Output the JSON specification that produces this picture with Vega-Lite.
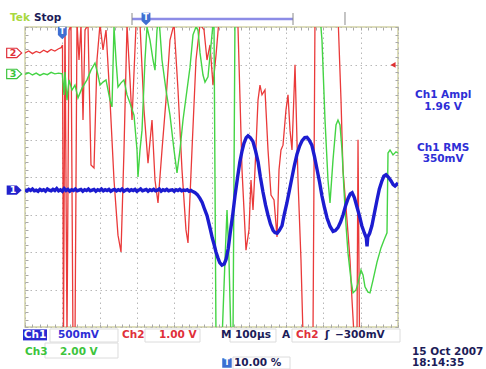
{
"$schema":"https://vega.github.io/schema/vega-lite/v6.json",
"width":373,"height":300,
"autosize":{"type":"none"},
"padding":{"left":25,"top":27,"right":88,"bottom":42},
"background":"white",
"config":{"view":{"stroke":"#d2d2a4","strokeWidth":1.5},"text":{"font":"DejaVu Sans","fontWeight":"bold","fontSize":10.5}},
"resolve":{"axis":{"x":"independent","y":"independent"}},
"datasets":{
"ch2":[{"x":0,"y":3.31},{"x":0.1,"y":3.36},{"x":0.2,"y":3.29},{"x":0.3,"y":3.35},{"x":0.4,"y":3.31},{"x":0.5,"y":3.38},{"x":0.6,"y":3.33},{"x":0.7,"y":3.4},{"x":0.8,"y":3.36},{"x":0.9,"y":3.42},{"x":0.97,"y":3.45},{"x":1.005,"y":3.52},{"x":1.032,"y":-4.35},{"x":1.072,"y":4.3},{"x":1.126,"y":-4.35},{"x":1.18,"y":3.92},{"x":1.233,"y":4.05},{"x":1.287,"y":-4.48},{"x":1.34,"y":-4.48},{"x":1.394,"y":4.13},{"x":1.448,"y":3.12},{"x":1.501,"y":4.05},{"x":1.555,"y":1.52},{"x":1.609,"y":3.92},{"x":1.689,"y":4.05},{"x":1.769,"y":0.32},{"x":1.85,"y":0.24},{"x":1.93,"y":3.12},{"x":2.011,"y":4.08},{"x":2.091,"y":3.39},{"x":2.172,"y":3.92},{"x":2.279,"y":2.05},{"x":2.386,"y":-0.08},{"x":2.493,"y":-1.55},{"x":2.574,"y":-2.0},{"x":2.654,"y":0.72},{"x":2.735,"y":4.05},{"x":2.815,"y":2.59},{"x":2.869,"y":1.52},{"x":2.976,"y":4.05},{"x":3.083,"y":4.08},{"x":3.19,"y":1.79},{"x":3.298,"y":0.37},{"x":3.405,"y":1.52},{"x":3.485,"y":-0.08},{"x":3.566,"y":-0.69},{"x":3.673,"y":0.72},{"x":3.78,"y":2.05},{"x":3.887,"y":3.65},{"x":3.995,"y":4.08},{"x":4.102,"y":2.32},{"x":4.209,"y":0.19},{"x":4.316,"y":-1.41},{"x":4.37,"y":-1.76},{"x":4.477,"y":0.72},{"x":4.584,"y":3.12},{"x":4.692,"y":4.08},{"x":4.799,"y":3.92},{"x":4.879,"y":3.12},{"x":4.96,"y":3.52},{"x":5.04,"y":2.45},{"x":5.121,"y":3.25},{"x":5.201,"y":4.19},{"x":5.496,"y":4.32},{"x":5.71,"y":4.0},{"x":5.818,"y":0.19},{"x":5.925,"y":-1.95},{"x":6.005,"y":-1.41},{"x":6.059,"y":-0.08},{"x":6.113,"y":-0.88},{"x":6.166,"y":0.19},{"x":6.247,"y":2.05},{"x":6.3,"y":2.45},{"x":6.354,"y":2.19},{"x":6.434,"y":2.32},{"x":6.515,"y":0.72},{"x":6.595,"y":-0.48},{"x":6.676,"y":-0.61},{"x":6.756,"y":-1.6},{"x":6.81,"y":0.19},{"x":6.863,"y":0.72},{"x":6.917,"y":0.85},{"x":6.997,"y":1.79},{"x":7.051,"y":2.19},{"x":7.105,"y":1.25},{"x":7.158,"y":0.72},{"x":7.239,"y":2.99},{"x":7.319,"y":-0.08},{"x":7.399,"y":-2.21},{"x":7.453,"y":-4.21},{"x":7.721,"y":-4.21},{"x":7.775,"y":4.32},{"x":8.391,"y":4.32},{"x":8.472,"y":2.05},{"x":8.525,"y":0.19},{"x":8.633,"y":-1.15},{"x":8.713,"y":-2.21},{"x":8.767,"y":-3.28},{"x":8.82,"y":-4.21},{"x":8.901,"y":-4.21},{"x":8.928,"y":0.99},{"x":8.968,"y":-4.21},{"x":10,"y":-4.35}],
"ch3":[{"x":0,"y":2.74},{"x":0.1,"y":2.78},{"x":0.2,"y":2.72},{"x":0.3,"y":2.77},{"x":0.4,"y":2.71},{"x":0.5,"y":2.76},{"x":0.6,"y":2.73},{"x":0.7,"y":2.79},{"x":0.8,"y":2.75},{"x":0.9,"y":2.77},{"x":1.0,"y":2.75},{"x":1.046,"y":2.19},{"x":1.072,"y":2.8},{"x":1.126,"y":2.05},{"x":1.18,"y":2.59},{"x":1.26,"y":2.32},{"x":1.34,"y":2.45},{"x":1.421,"y":2.11},{"x":1.528,"y":2.37},{"x":1.662,"y":2.59},{"x":1.769,"y":2.85},{"x":1.877,"y":3.04},{"x":1.957,"y":2.72},{"x":2.011,"y":2.45},{"x":2.091,"y":2.53},{"x":2.172,"y":2.59},{"x":2.279,"y":2.05},{"x":2.332,"y":1.87},{"x":2.386,"y":4.0},{"x":2.44,"y":3.12},{"x":2.493,"y":2.4},{"x":2.574,"y":2.51},{"x":2.654,"y":2.59},{"x":2.735,"y":2.19},{"x":2.815,"y":1.97},{"x":2.922,"y":1.65},{"x":3.003,"y":0.72},{"x":3.029,"y":0.0},{"x":3.083,"y":0.72},{"x":3.137,"y":1.25},{"x":3.217,"y":3.12},{"x":3.271,"y":4.0},{"x":3.351,"y":3.65},{"x":3.432,"y":3.12},{"x":3.485,"y":2.85},{"x":3.539,"y":3.92},{"x":3.592,"y":4.24},{"x":3.673,"y":3.12},{"x":3.78,"y":2.32},{"x":3.887,"y":1.65},{"x":3.995,"y":0.72},{"x":4.075,"y":0.11},{"x":4.155,"y":0.72},{"x":4.236,"y":1.52},{"x":4.343,"y":2.32},{"x":4.424,"y":2.93},{"x":4.504,"y":3.79},{"x":4.584,"y":4.0},{"x":4.638,"y":3.92},{"x":4.692,"y":3.31},{"x":4.772,"y":2.72},{"x":4.826,"y":2.53},{"x":4.906,"y":2.67},{"x":4.987,"y":3.52},{"x":5.04,"y":4.08},{"x":5.067,"y":4.08},{"x":5.121,"y":-4.35},{"x":5.282,"y":-4.35},{"x":5.362,"y":-2.21},{"x":5.416,"y":-0.88},{"x":5.469,"y":-2.21},{"x":5.523,"y":-4.35},{"x":5.576,"y":-4.35},{"x":5.63,"y":4.32},{"x":7.909,"y":4.32},{"x":7.962,"y":3.65},{"x":8.043,"y":1.52},{"x":8.123,"y":-0.08},{"x":8.177,"y":-0.69},{"x":8.257,"y":0.45},{"x":8.338,"y":1.39},{"x":8.391,"y":1.52},{"x":8.445,"y":1.39},{"x":8.499,"y":0.72},{"x":8.552,"y":-0.35},{"x":8.606,"y":-1.28},{"x":8.66,"y":-2.03},{"x":8.74,"y":-2.75},{"x":8.794,"y":-3.09},{"x":8.874,"y":-3.01},{"x":8.928,"y":-2.83},{"x":9.008,"y":-2.48},{"x":9.062,"y":-2.61},{"x":9.115,"y":-2.93},{"x":9.196,"y":-3.07},{"x":9.249,"y":-3.09},{"x":9.33,"y":-2.75},{"x":9.437,"y":-2.27},{"x":9.544,"y":-1.89},{"x":9.625,"y":-1.68},{"x":9.705,"y":-1.49},{"x":9.732,"y":0.64},{"x":9.786,"y":0.72},{"x":9.866,"y":0.59},{"x":9.946,"y":0.67},{"x":10,"y":0.64}],
"ch1":[{"x":0,"y":-0.34},{"x":0.05,"y":-0.37},{"x":0.1,"y":-0.33},{"x":0.15,"y":-0.36},{"x":0.2,"y":-0.32},{"x":0.25,"y":-0.37},{"x":0.3,"y":-0.35},{"x":0.35,"y":-0.38},{"x":0.4,"y":-0.33},{"x":0.45,"y":-0.36},{"x":0.5,"y":-0.34},{"x":0.55,"y":-0.38},{"x":0.6,"y":-0.32},{"x":0.65,"y":-0.35},{"x":0.7,"y":-0.37},{"x":0.75,"y":-0.33},{"x":0.8,"y":-0.36},{"x":0.85,"y":-0.31},{"x":0.9,"y":-0.37},{"x":0.95,"y":-0.34},{"x":1.0,"y":-0.38},{"x":1.05,"y":-0.31},{"x":1.1,"y":-0.36},{"x":1.15,"y":-0.33},{"x":1.2,"y":-0.38},{"x":1.25,"y":-0.34},{"x":1.3,"y":-0.36},{"x":1.35,"y":-0.32},{"x":1.4,"y":-0.37},{"x":1.45,"y":-0.35},{"x":1.5,"y":-0.33},{"x":1.55,"y":-0.38},{"x":1.6,"y":-0.34},{"x":1.65,"y":-0.36},{"x":1.7,"y":-0.32},{"x":1.75,"y":-0.37},{"x":1.8,"y":-0.35},{"x":1.85,"y":-0.33},{"x":1.9,"y":-0.38},{"x":1.95,"y":-0.34},{"x":2.0,"y":-0.36},{"x":2.05,"y":-0.32},{"x":2.1,"y":-0.37},{"x":2.15,"y":-0.34},{"x":2.2,"y":-0.36},{"x":2.25,"y":-0.33},{"x":2.3,"y":-0.38},{"x":2.35,"y":-0.35},{"x":2.4,"y":-0.33},{"x":2.45,"y":-0.37},{"x":2.5,"y":-0.34},{"x":2.55,"y":-0.36},{"x":2.6,"y":-0.32},{"x":2.65,"y":-0.38},{"x":2.7,"y":-0.35},{"x":2.75,"y":-0.33},{"x":2.8,"y":-0.37},{"x":2.85,"y":-0.34},{"x":2.9,"y":-0.36},{"x":2.95,"y":-0.33},{"x":3.0,"y":-0.38},{"x":3.05,"y":-0.35},{"x":3.1,"y":-0.32},{"x":3.15,"y":-0.37},{"x":3.2,"y":-0.35},{"x":3.25,"y":-0.33},{"x":3.3,"y":-0.38},{"x":3.35,"y":-0.34},{"x":3.4,"y":-0.36},{"x":3.45,"y":-0.33},{"x":3.5,"y":-0.37},{"x":3.55,"y":-0.35},{"x":3.6,"y":-0.32},{"x":3.65,"y":-0.38},{"x":3.7,"y":-0.34},{"x":3.75,"y":-0.36},{"x":3.8,"y":-0.33},{"x":3.85,"y":-0.37},{"x":3.9,"y":-0.35},{"x":3.95,"y":-0.34},{"x":4.0,"y":-0.38},{"x":4.05,"y":-0.34},{"x":4.1,"y":-0.36},{"x":4.15,"y":-0.33},{"x":4.2,"y":-0.37},{"x":4.25,"y":-0.35},{"x":4.3,"y":-0.36},{"x":4.35,"y":-0.34},{"x":4.4,"y":-0.38},{"x":4.45,"y":-0.36},{"x":4.5,"y":-0.39},{"x":4.56,"y":-0.42},{"x":4.62,"y":-0.47},{"x":4.69,"y":-0.57},{"x":4.75,"y":-0.68},{"x":4.8,"y":-0.82},{"x":4.88,"y":-1.03},{"x":4.97,"y":-1.4},{"x":5.02,"y":-1.62},{"x":5.07,"y":-1.8},{"x":5.12,"y":-2.0},{"x":5.17,"y":-2.15},{"x":5.22,"y":-2.28},{"x":5.28,"y":-2.35},{"x":5.34,"y":-2.32},{"x":5.39,"y":-2.2},{"x":5.45,"y":-1.9},{"x":5.5,"y":-1.5},{"x":5.57,"y":-1.0},{"x":5.63,"y":-0.5},{"x":5.7,"y":0.0},{"x":5.76,"y":0.4},{"x":5.82,"y":0.7},{"x":5.87,"y":0.9},{"x":5.93,"y":1.05},{"x":5.98,"y":1.1},{"x":6.04,"y":1.05},{"x":6.11,"y":0.95},{"x":6.18,"y":0.7},{"x":6.25,"y":0.4},{"x":6.31,"y":0.0},{"x":6.38,"y":-0.4},{"x":6.45,"y":-0.75},{"x":6.51,"y":-1.0},{"x":6.58,"y":-1.25},{"x":6.65,"y":-1.42},{"x":6.7,"y":-1.48},{"x":6.76,"y":-1.5},{"x":6.82,"y":-1.42},{"x":6.89,"y":-1.3},{"x":6.95,"y":-1.0},{"x":7.02,"y":-0.7},{"x":7.09,"y":-0.35},{"x":7.16,"y":0.0},{"x":7.22,"y":0.3},{"x":7.29,"y":0.6},{"x":7.36,"y":0.82},{"x":7.43,"y":0.97},{"x":7.5,"y":1.05},{"x":7.56,"y":1.06},{"x":7.62,"y":0.98},{"x":7.69,"y":0.85},{"x":7.76,"y":0.55},{"x":7.83,"y":0.2},{"x":7.9,"y":-0.15},{"x":7.96,"y":-0.5},{"x":8.03,"y":-0.82},{"x":8.1,"y":-1.1},{"x":8.18,"y":-1.32},{"x":8.26,"y":-1.45},{"x":8.32,"y":-1.43},{"x":8.39,"y":-1.35},{"x":8.46,"y":-1.2},{"x":8.53,"y":-1.0},{"x":8.6,"y":-0.75},{"x":8.66,"y":-0.58},{"x":8.72,"y":-0.45},{"x":8.77,"y":-0.42},{"x":8.83,"y":-0.55},{"x":8.9,"y":-0.8},{"x":8.97,"y":-1.05},{"x":9.03,"y":-1.3},{"x":9.1,"y":-1.5},{"x":9.15,"y":-1.62},{"x":9.17,"y":-1.85},{"x":9.19,"y":-1.6},{"x":9.24,"y":-1.5},{"x":9.3,"y":-1.3},{"x":9.37,"y":-0.95},{"x":9.44,"y":-0.6},{"x":9.5,"y":-0.32},{"x":9.57,"y":-0.1},{"x":9.62,"y":0.02},{"x":9.68,"y":0.06},{"x":9.74,"y":0.0},{"x":9.81,"y":-0.1},{"x":9.87,"y":-0.2},{"x":9.92,"y":-0.24},{"x":10,"y":-0.16}],
"labels":[{"x":0.885,"y":-4.21,"text":"500mV","role":"ch1"},{"x":2.6,"y":-4.21,"text":"Ch2","role":"ch2"},{"x":3.59,"y":-4.21,"text":"1.00 V","role":"ch2"},{"x":5.255,"y":-4.21,"text":"M","role":"status"},{"x":5.63,"y":-4.21,"text":"100µs","role":"status"},{"x":6.89,"y":-4.21,"text":"A","role":"status"},{"x":7.265,"y":-4.21,"text":"Ch2","role":"ch2"},{"x":8.04,"y":-4.21,"text":"ʃ","role":"status"},{"x":8.31,"y":-4.21,"text":"−300mV","role":"status"},{"x":0.0,"y":-4.67,"text":"Ch3","role":"ch3"},{"x":0.94,"y":-4.67,"text":"2.00 V","role":"ch3"},{"x":5.6,"y":-4.96,"text":"10.00 %","role":"status"},{"x":10.375,"y":-4.67,"text":"15 Oct  2007","role":"status"},{"x":10.375,"y":-4.96,"text":"18:14:35","role":"status"},{"x":-0.402,"y":4.24,"text":"Tek","role":"brand"},{"x":0.241,"y":4.24,"text":"Stop","role":"status"}],
"measures":[{"x":11.21,"y":2.19,"text":"Ch1 Ampl","role":"ch1"},{"x":11.21,"y":1.87,"text":"1.96 V","role":"ch1"},{"x":11.21,"y":0.77,"text":"Ch1 RMS","role":"ch1"},{"x":11.21,"y":0.48,"text":"350mV","role":"ch1"},{"x":0.268,"y":-4.21,"text":"Ch1","role":"inverse"}],
"grounds":[{"ch":"Ch1","role":"ch1","level":-0.35,"text":"1"},{"ch":"Ch2","role":"ch2","level":3.31,"text":"2"},{"ch":"Ch3","role":"ch3","level":2.75,"text":"3"}],
"fields":[{"x":0.67,"x2":2.493,"y":-4.053,"y2":-4.4},{"x":3.217,"x2":4.692,"y":-4.053,"y2":-4.4},{"x":5.496,"x2":6.729,"y":-4.053,"y2":-4.4},{"x":7.158,"x2":10.054,"y":-4.053,"y2":-4.4},{"x":0.536,"x2":2.493,"y":-4.427,"y2":-4.827},{"x":5.576,"x2":7.105,"y":-4.8,"y2":-5.12}]
},
"layer":[
{"data":{"name":"fields"},"mark":{"type":"rect","fill":"#ffffff","fillOpacity":0,"stroke":"#dcdcdc","strokeWidth":1},
 "encoding":{"x":{"field":"x","type":"quantitative","scale":{"domain":[0,10],"nice":false,"zero":false},"axis":{"orient":"bottom","values":[0,0.2,0.4,0.6,0.8,1,1.2,1.4,1.6,1.8,2,2.2,2.4,2.6,2.8,3,3.2,3.4,3.6,3.8,4,4.2,4.4,4.6,4.8,5,5.2,5.4,5.6,5.8,6,6.2,6.4,6.6,6.8,7,7.2,7.4,7.6,7.8,8,8.2,8.4,8.6,8.8,9,9.2,9.4,9.6,9.8,10],"labels":false,"domain":false,"title":null,"tickSize":-3,"tickColor":"#a8a8a8","grid":true,"gridColor":"#b8b8b8","gridDash":[1.5,3.5],"gridOpacity":{"condition":{"test":"datum.value % 1 === 0","value":1},"value":0}}},
  "x2":{"field":"x2"},
  "y":{"field":"y","type":"quantitative","scale":{"domain":[-4,4],"nice":false,"zero":false},"axis":{"orient":"left","values":[-4,-3.8,-3.6,-3.4,-3.2,-3,-2.8,-2.6,-2.4,-2.2,-2,-1.8,-1.6,-1.4,-1.2,-1,-0.8,-0.6,-0.4,-0.2,0,0.2,0.4,0.6,0.8,1,1.2,1.4,1.6,1.8,2,2.2,2.4,2.6,2.8,3,3.2,3.4,3.6,3.8,4],"labels":false,"domain":false,"title":null,"tickSize":-3,"tickColor":"#a8a8a8","grid":true,"gridColor":"#b8b8b8","gridDash":[1.5,3.5],"gridOpacity":{"condition":{"test":"datum.value % 1 === 0","value":1},"value":0}}},
  "y2":{"field":"y2"}}},
{"data":{"name":"ch2"},"mark":{"type":"line","clip":true,"color":"#ea3a3a","strokeWidth":1.3},
 "encoding":{"x":{"field":"x","type":"quantitative","scale":{"domain":[0,10],"nice":false,"zero":false},"axis":{"orient":"top","values":[0,0.2,0.4,0.6,0.8,1,1.2,1.4,1.6,1.8,2,2.2,2.4,2.6,2.8,3,3.2,3.4,3.6,3.8,4,4.2,4.4,4.6,4.8,5,5.2,5.4,5.6,5.8,6,6.2,6.4,6.6,6.8,7,7.2,7.4,7.6,7.8,8,8.2,8.4,8.6,8.8,9,9.2,9.4,9.6,9.8,10],"labels":false,"domain":false,"title":null,"tickSize":-3,"tickColor":"#a8a8a8","grid":false}},
  "y":{"field":"y","type":"quantitative","scale":{"domain":[-4,4],"nice":false,"zero":false},"axis":{"orient":"right","values":[-4,-3.8,-3.6,-3.4,-3.2,-3,-2.8,-2.6,-2.4,-2.2,-2,-1.8,-1.6,-1.4,-1.2,-1,-0.8,-0.6,-0.4,-0.2,0,0.2,0.4,0.6,0.8,1,1.2,1.4,1.6,1.8,2,2.2,2.4,2.6,2.8,3,3.2,3.4,3.6,3.8,4],"labels":false,"domain":false,"title":null,"tickSize":-3,"tickColor":"#a8a8a8","grid":false}}}},
{"data":{"name":"ch3"},"mark":{"type":"line","clip":true,"color":"#44d444","strokeWidth":1.4},
 "encoding":{"x":{"field":"x","type":"quantitative","scale":{"domain":[0,10],"nice":false,"zero":false},"axis":null},
  "y":{"field":"y","type":"quantitative","scale":{"domain":[-4,4],"nice":false,"zero":false},"axis":null}}},
{"data":{"name":"ch1"},"mark":{"type":"line","clip":true,"color":"#1c1cd0","strokeWidth":3.4},
 "encoding":{"x":{"field":"x","type":"quantitative","scale":{"domain":[0,10],"nice":false,"zero":false},"axis":null},
  "y":{"field":"y","type":"quantitative","scale":{"domain":[-4,4],"nice":false,"zero":false},"axis":null}}},
{"data":{"values":[{"x":2.869,"x2":7.185,"y":4.213}]},"mark":{"type":"rule","color":"#8c8ce6","strokeWidth":2.5},
 "encoding":{"x":{"field":"x","type":"quantitative","scale":{"domain":[0,10],"nice":false,"zero":false},"axis":null},"x2":{"field":"x2"},
  "y":{"field":"y","type":"quantitative","scale":{"domain":[-4,4],"nice":false,"zero":false},"axis":null}}},
{"data":{"values":[{"x":2.869,"y":4.053,"y2":4.373},{"x":7.185,"y":4.053,"y2":4.373},{"x":8.579,"y":4.053,"y2":4.4}]},"mark":{"type":"rule","color":"#8a8a8a","strokeWidth":1},
 "encoding":{"x":{"field":"x","type":"quantitative","scale":{"domain":[0,10],"nice":false,"zero":false},"axis":null},
  "y":{"field":"y","type":"quantitative","scale":{"domain":[-4,4],"nice":false,"zero":false},"axis":null},"y2":{"field":"y2"}}},
{"data":{"values":[{"x":1,"y":3.84},{"x":3.244,"y":4.213}]},"mark":{"type":"point","shape":"M-0.7,-1L0.7,-1L0.7,0.3L0,1L-0.7,0.3Z","filled":true,"color":"#3f6fd2","size":160,"opacity":1},
 "encoding":{"x":{"field":"x","type":"quantitative","scale":{"domain":[0,10],"nice":false,"zero":false},"axis":null},
  "y":{"field":"y","type":"quantitative","scale":{"domain":[-4,4],"nice":false,"zero":false},"axis":null}}},
{"data":{"values":[{"x":9.866,"y":2.99}]},"mark":{"type":"point","shape":"triangle-left","filled":true,"color":"#e03030","size":35,"opacity":1},
 "encoding":{"x":{"field":"x","type":"quantitative","scale":{"domain":[0,10],"nice":false,"zero":false},"axis":null},
  "y":{"field":"y","type":"quantitative","scale":{"domain":[-4,4],"nice":false,"zero":false},"axis":null}}},
{"data":{"values":[{"x":0.268,"y":-4.21}]},"mark":{"type":"point","shape":"M-1,-0.46L1,-0.46L1,0.46L-1,0.46Z","filled":true,"color":"#2a2ad0","size":576,"opacity":1},
 "encoding":{"x":{"field":"x","type":"quantitative","scale":{"domain":[0,10],"nice":false,"zero":false},"axis":null},
  "y":{"field":"y","type":"quantitative","scale":{"domain":[-4,4],"nice":false,"zero":false},"axis":null}}},
{"data":{"values":[{"x":5.415,"y":-4.96}]},"mark":{"type":"point","shape":"square","filled":true,"color":"#3a6fd2","size":90,"opacity":1},
 "encoding":{"x":{"field":"x","type":"quantitative","scale":{"domain":[0,10],"nice":false,"zero":false},"axis":null},
  "y":{"field":"y","type":"quantitative","scale":{"domain":[-4,4],"nice":false,"zero":false},"axis":null}}},
{"data":{"name":"grounds"},"transform":[{"filter":"datum.ch !== 'Ch1'"}],"mark":{"type":"point","shape":"M-1,-0.62L0.35,-0.62L1,0L0.35,0.62L-1,0.62Z","filled":true,"fill":"#ffffff","strokeWidth":1.2,"size":225,"opacity":1},
 "encoding":{"x":{"datum":-0.29,"type":"quantitative","scale":{"domain":[0,10],"nice":false,"zero":false},"axis":null},
  "y":{"field":"level","type":"quantitative","scale":{"domain":[-4,4],"nice":false,"zero":false},"axis":null},
  "stroke":{"field":"role","type":"nominal","scale":{"domain":["ch1","ch2","ch3","status","brand","inverse"],"range":["#2e2ed6","#e0303a","#3cc43c","#1c1c58","#a8d840","#ffffff"]},"legend":null}}},
{"data":{"name":"grounds"},"transform":[{"filter":"datum.ch === 'Ch1'"}],"mark":{"type":"point","shape":"M-1,-0.62L0.35,-0.62L1,0L0.35,0.62L-1,0.62Z","filled":true,"color":"#2222cc","size":225,"opacity":1},
 "encoding":{"x":{"datum":-0.29,"type":"quantitative","scale":{"domain":[0,10],"nice":false,"zero":false},"axis":null},
  "y":{"field":"level","type":"quantitative","scale":{"domain":[-4,4],"nice":false,"zero":false},"axis":null}}},
{"data":{"name":"grounds"},"mark":{"type":"text","align":"center","baseline":"middle","fontSize":9.5,"dx":-1},
 "encoding":{"x":{"datum":-0.29,"type":"quantitative","scale":{"domain":[0,10],"nice":false,"zero":false},"axis":null},
  "y":{"field":"level","type":"quantitative","scale":{"domain":[-4,4],"nice":false,"zero":false},"axis":null},
  "text":{"field":"text"},
  "color":{"condition":{"test":"datum.ch === 'Ch1'","value":"#ffffff"},"field":"role","type":"nominal","scale":{"domain":["ch1","ch2","ch3","status","brand","inverse"],"range":["#2e2ed6","#e0303a","#3cc43c","#1c1c58","#a8d840","#ffffff"]},"legend":null}}},
{"data":{"values":[{"x":1,"y":3.88,"text":"T"},{"x":3.244,"y":4.24,"text":"T"},{"x":5.415,"y":-4.96,"text":"T"}]},"mark":{"type":"text","align":"center","baseline":"middle","fontSize":8,"color":"#ffffff"},
 "encoding":{"x":{"field":"x","type":"quantitative","scale":{"domain":[0,10],"nice":false,"zero":false},"axis":null},
  "y":{"field":"y","type":"quantitative","scale":{"domain":[-4,4],"nice":false,"zero":false},"axis":null},"text":{"field":"text"}}},
{"data":{"name":"labels"},"mark":{"type":"text","align":"left","baseline":"middle"},
 "encoding":{"x":{"field":"x","type":"quantitative","scale":{"domain":[0,10],"nice":false,"zero":false},"axis":null},
  "y":{"field":"y","type":"quantitative","scale":{"domain":[-4,4],"nice":false,"zero":false},"axis":null},
  "text":{"field":"text"},
  "color":{"field":"role","type":"nominal","scale":{"domain":["ch1","ch2","ch3","status","brand","inverse"],"range":["#2e2ed6","#e0303a","#3cc43c","#1c1c58","#a8d840","#ffffff"]},"legend":null}}},
{"data":{"name":"measures"},"mark":{"type":"text","align":"center","baseline":"middle"},
 "encoding":{"x":{"field":"x","type":"quantitative","scale":{"domain":[0,10],"nice":false,"zero":false},"axis":null},
  "y":{"field":"y","type":"quantitative","scale":{"domain":[-4,4],"nice":false,"zero":false},"axis":null},
  "text":{"field":"text"},
  "color":{"field":"role","type":"nominal","scale":{"domain":["ch1","ch2","ch3","status","brand","inverse"],"range":["#2e2ed6","#e0303a","#3cc43c","#1c1c58","#a8d840","#ffffff"]},"legend":null}}}
]
}
